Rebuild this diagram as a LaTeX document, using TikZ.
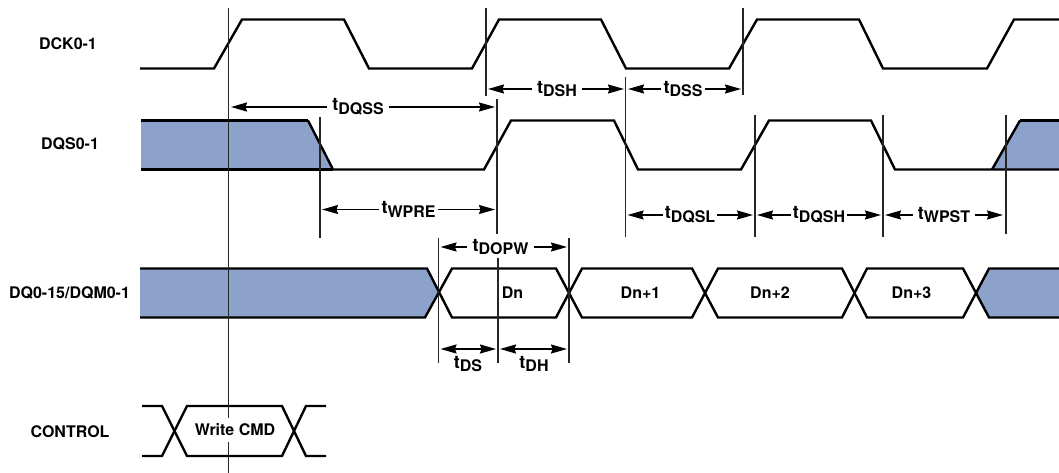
\documentclass[tikz,border=0pt]{standalone}
\usepackage{fontspec}
\setmainfont{TeX Gyre Heros}
\usetikzlibrary{arrows.meta}
\definecolor{busblue}{HTML}{8DA2CB}
\newcommand{\tsub}[1]{{\fontsize{18}{18}\selectfont t}\raisebox{-3.6pt}{#1}}

\begin{document}
\begin{tikzpicture}[x=1pt,y=-1pt,
   txt/.style={font=\fontsize{16}{18}\selectfont\bfseries,inner sep=0pt},
   tlab/.style={txt,inner ysep=1pt,inner xsep=+2pt},
   sig/.style={line width=2.4pt},
   sigfat/.style={line width=3.2pt},
   guide/.style={line width=1.1pt,draw=black!85},
   dim/.style={line width=1.5pt,-{Stealth[length=16pt,width=9pt,inset=1.5pt]}},
   dimboth/.style={dim,{Stealth[length=16pt,width=9pt,inset=1.5pt]}-{Stealth[length=16pt,width=9pt,inset=1.5pt]}}
    ]
    \useasboundingbox (0,0) rectangle (1059,473);

    % Blue areas:
    \fill[busblue] (141,120.5) -- (308,120.5) -- (333,169.5) -- (141,169.5) -- cycle;
    \fill[busblue] (992,169.5) -- (1020,120.5) -- (1059,120.5) -- (1059,169.5) -- cycle;
    \fill[busblue] (140,268.5) -- (427,268.5) -- (438.5,293) -- (425,317.5) -- (140,317.5) -- cycle;
    \fill[busblue] (976.5,293) -- (989,268.5) -- (1059,268.5) -- (1059,317.5) -- (989,317.5) -- cycle;

    % DCK:
    \draw[sig] (140,68.5) -- (214,68.5) -- (242,19.5) -- (344,19.5) -- (369,68.5) -- (472,68.5)
       -- (499,19.5) -- (601,19.5) -- (626,68.5) -- (729,68.5) -- (757,19.5) -- (859,19.5)
       -- (883,68.5) -- (987,68.5) -- (1014,19.5) -- (1059,19.5);

    % DQS:
    \draw[sigfat] (141,120.5) -- (308,120.5);
    \draw[sigfat] (141,169.5) -- (333,169.5);
    \draw[sig] (308,120.5) -- (333,169.5) -- (484,169.5) -- (511,120.5) -- (614,120.5)
       -- (638,169.5) -- (741,169.5) -- (769,120.5) -- (871,120.5) -- (895,169.5)
       -- (1059,169.5);
    \draw[sig] (992,169.5) -- (1020,120.5);
    \draw[sigfat] (1020,120.5) -- (1059,120.5);

    % DQ:
    \draw[sig] (140,268.5) -- (427,268.5) -- (452,317.5) -- (556,317.5) -- (582,268.5) -- (692,268.5)
       -- (718,317.5) -- (842,317.5) -- (867,268.5) -- (963,268.5) -- (989,317.5) -- (1059,317.5);
    \draw[sig] (140,317.5) -- (425,317.5) -- (452,268.5) -- (556,268.5) -- (582,317.5) -- (692,317.5)
       -- (718,268.5) -- (842,268.5) -- (867,317.5) -- (963,317.5) -- (989,268.5) -- (1059,268.5);

    % CONTROL:
    \draw[sig] (142,406) -- (162,406) -- (187,456) -- (282,456) -- (306,406) -- (326,406);
    \draw[sig] (142,456) -- (162,456) -- (187,406) -- (282,406) -- (306,456) -- (326,456);

    % Guide lines:
    \foreach \gx/\gtop/\gbot in {228.5/8/473,486/8/96,743/8/95,625.5/77/237,497/99/234,
       320/117/238,755/115/237,883/115/237,1006/115/234,
       438.5/238/363,569/238/363,498/258/363}
       \draw[guide] (\gx,\gtop) -- (\gx,\gbot);

    % Labels:
    \node[txt] (dck) at (68,44) {DCK0-1};
    \node[txt] (dqs) at (70,144) {DQS0-1};
    \node[txt] (dq) at (69.5,293) {DQ0-15/DQM0-1};
    \node[txt] (ctrl) at (70,432) {CONTROL};

    \node[txt] (dn0) at (512.5,293) {Dn};
    \node[txt] (dn1) at (640.5,293) {Dn+1};
    \node[txt] (dn2) at (770,293) {Dn+2};
    \node[txt] (dn3) at (911.5,293) {Dn+3};
    \node[txt,fill=white,minimum height=24pt] (cmd) at (235,430) {Write CMD};

    % Timing labels:
    \node[tlab,inner xsep=5pt] (tdqss) at (358,107) {\tsub{DQSS}};
    \node[tlab,inner xsep=5pt] (tdsh) at (557,89) {\tsub{DSH}};
    \node[tlab] (tdss) at (683,89) {\tsub{DSS}};
    \node[tlab] (twpre) at (408.5,209.5) {\tsub{WPRE}};
    \node[tlab] (tdqsl) at (690,215) {\tsub{DQSL}};
    \node[tlab] (tdqsh) at (819,215) {\tsub{DQSH}};
    \node[tlab,inner xsep=5pt] (twpst) at (944,215) {\tsub{WPST}};
    \node[tlab,inner xsep=5pt] (tdopw) at (500.5,247) {\tsub{DOPW}};
    \node[tlab] (tds) at (468,364) {\tsub{DS}};
    \node[tlab] (tdh) at (534,364) {\tsub{DH}};

    % Arrow ends:
    \coordinate (dqss0) at (231,107);
    \coordinate (dqss1) at (495,107);
    \coordinate (dsh0) at (488,89);
    \coordinate (dsh1) at (624,89);
    \coordinate (dss0) at (628,89);
    \coordinate (dss1) at (741,89);
    \coordinate (wpre0) at (322,209.5);
    \coordinate (wpre1) at (495,209.5);
    \coordinate (dqsl0) at (627.5,215);
    \coordinate (dqsl1) at (753,215);
    \coordinate (dqsh0) at (757,215);
    \coordinate (dqsh1) at (881,215);
    \coordinate (wpst0) at (885,215);
    \coordinate (wpst1) at (1003,215);
    \coordinate (dopw0) at (440.5,247);
    \coordinate (dopw1) at (567,247);
    \coordinate (ds0) at (440.5,349);
    \coordinate (ds1) at (496,349);
    \coordinate (dh0) at (500,349);
    \coordinate (dh1) at (567,349);

    % arrows
    \draw[dim] (tdqss) -- (dqss0);
    \draw[dim] (tdqss) -- (dqss1);
    \draw[dim] (tdsh) -- (dsh0);
    \draw[dim] (tdsh) -- (dsh1);
    \draw[dim] (tdss) -- (dss0);
    \draw[dim] (tdss) -- (dss1);
    \draw[dim] (twpre) -- (wpre0);
    \draw[dim] (twpre) -- (wpre1);
    \draw[dim] (tdqsl) -- (dqsl0);
    \draw[dim] (tdqsl) -- (dqsl1);
    \draw[dim] (tdqsh) -- (dqsh0);
    \draw[dim] (tdqsh) -- (dqsh1);
    \draw[dim] (twpst) -- (wpst0);
    \draw[dim] (twpst) -- (wpst1);
    \draw[dim] (tdopw) -- (dopw0);
    \draw[dim] (tdopw) -- (dopw1);
    \draw[dimboth] (ds0) -- (ds1);
    \draw[dimboth] (dh0) -- (dh1);

\end{tikzpicture}
\end{document}
